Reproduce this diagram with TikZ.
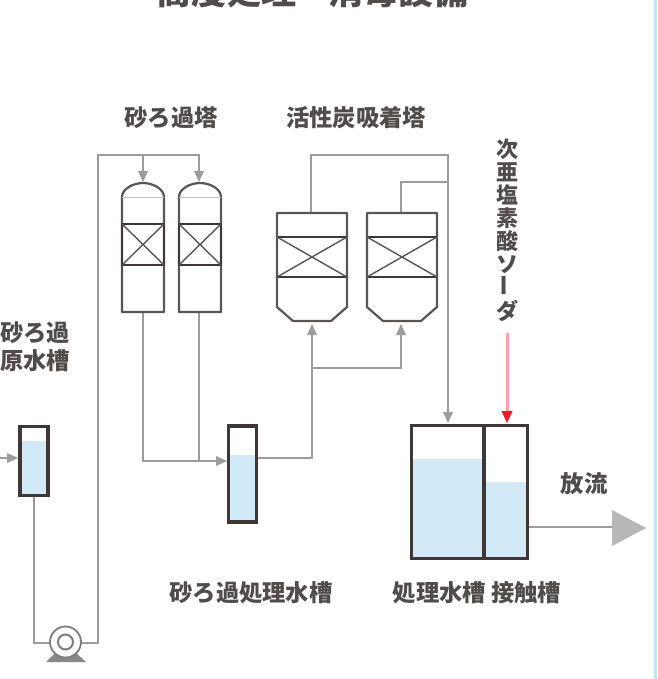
\documentclass[tikz,border=0pt]{standalone}
\usepackage{fontspec}
\newfontfamily\jp{Noto Sans CJK JP}
\definecolor{ink}{HTML}{3E3735}
\definecolor{pipe}{HTML}{9C9C9C}
\definecolor{water}{HTML}{D2EAF7}
\definecolor{edge}{HTML}{BFE3F7}
\definecolor{tri}{HTML}{B5B7B8}
\definecolor{dose}{HTML}{FF9FAE}
\definecolor{dosetip}{HTML}{F0182C}
\tikzset{
  x=1pt,y=-1pt,
  pipeline/.style={draw=pipe,line width=1.5pt},
  flow/.style={pipeline},
  head/.style={fill=pipe,draw=none},
  vessel/.style={draw=ink!85,line width=2.2pt,line join=round},
  tank/.style={draw=ink,line width=3.6pt,line join=miter},
  thin/.style={draw=ink!85,line width=1.4pt},
  band/.style={draw=ink,line width=2.8pt},
  label/.style={font=\jp\bfseries\fontsize{23.3}{27.5}\selectfont,text=ink!90,inner sep=0pt,align=center},
}
\newcommand{\downtip}[2]{\fill[head] (#1-5,#2-11) -- (#1+5,#2-11) -- (#1,#2) -- cycle;}
\newcommand{\uptip}[2]{\fill[head] (#1-5,#2+11) -- (#1+5,#2+11) -- (#1,#2) -- cycle;}
\newcommand{\righttip}[2]{\fill[head] (#1-11,#2-5) -- (#1-11,#2+5) -- (#1,#2) -- cycle;}
\newcommand{\sandtower}[1]{%
  \draw[vessel] (#1-21,312) -- (#1-21,197) .. controls (#1-21,189) and (#1-10,183) .. (#1,183) .. controls (#1+10,183) and (#1+21,189) .. (#1+21,197) -- (#1+21,312) -- cycle;
  \draw[draw=pipe!60,line width=.8pt] (#1-21,197) -- (#1+21,197);
  \draw[band] (#1-21,224) rectangle (#1+21,265);
  \draw[thin] (#1-21,224) -- (#1+21,265) (#1+21,224) -- (#1-21,265);
}
\newcommand{\carbontower}[1]{%
  \draw[vessel] (#1-35,213) -- (#1+35,213) -- (#1+35,307) -- (#1+19,321) -- (#1-19,321) -- (#1-35,307) -- cycle;
  \draw[band] (#1-35,237) -- (#1+35,237) (#1-35,277) -- (#1+35,277);
  \draw[thin] (#1-35,237) -- (#1+35,277) (#1+35,237) -- (#1-35,277);
}
\begin{document}
\begin{tikzpicture}
\useasboundingbox (0,0) rectangle (657,679);
\clip (0,0) rectangle (657,679);
\fill[white] (0,0) rectangle (657,679);
\fill[edge] (654,0) rectangle (657,679);
% title
\node[label,font=\jp\bfseries\fontsize{35}{40}\selectfont,anchor=center] (title) at (312.5,-9) {高度処理\hspace{0.9em}消毒設備};
% labels
\node[label] (lsandtower) at (171,118) {砂ろ過塔};
\node[label] (lcarbon) at (356,118) {活性炭吸着塔};
\node[label,anchor=west] (lraw) at (0,347) {砂ろ過\\原水槽};
\node[label] (ltreat) at (251,593) {砂ろ過処理水槽};
\node[label] (ltank) at (477,593) {処理水槽 接触槽};
\node[label] (ldis) at (584,484) {放流};
\node[label,font=\jp\bfseries\fontsize{22}{23}\selectfont] (lhypo) at (507,230) {次\\亜\\塩\\素\\酸\\ソ\\\rotatebox{90}{ー}\\ダ};
% water
\fill[water] (21,441) rectangle (47,495);
\fill[water] (229,455) rectangle (256,522);
\fill[water] (412,459) rectangle (484,558);
\fill[water] (484,482) rectangle (527,558);
% pipes
\coordinate (pumpL) at (50,643);
\coordinate (pumpR) at (79,643);
\draw[flow] (34,495) -- (34,643) -- (pumpL);
\draw[flow] (pumpR) -- (98,643) -- (98,155) -- (199,155) -- (199,175);
\draw[flow] (143,155) -- (143,175);
\draw[flow] (143,312) -- (143,461) -- (218,461);
\draw[flow] (199,312) -- (199,461);
\draw[flow] (0,458) -- (8,458);
\draw[flow] (256,458) -- (312,458) -- (312,334);
\draw[flow] (312,368) -- (401,368) -- (401,334);
\draw[flow] (311,213) -- (311,155) -- (448,155) -- (448,414);
\draw[flow] (401,213) -- (401,182) -- (448,182);
\draw[flow] (528,527) -- (612,527);
\draw[draw=dose,line width=3pt] (507,333) -- (507,414);
\fill[dosetip] (501.5,411) -- (512.5,411) -- (507,423) -- cycle;
% tips
\downtip{143}{182}
\downtip{199}{182}
\uptip{312}{324}
\uptip{401}{324}
\downtip{448}{423}
\righttip{227}{461}
\righttip{18}{458}
\fill[tri] (612,510) -- (612,546) -- (646,528) -- cycle;
% towers
\sandtower{143}
\sandtower{200}
\carbontower{312}
\carbontower{402}
% tanks
\node[tank,minimum width=28pt,minimum height=69pt,inner sep=0pt] (rawtank) at (34,461) {};
\node[tank,minimum width=28pt,minimum height=96pt,inner sep=0pt] (treattank) at (242.5,474) {};
\node[tank,minimum width=116pt,minimum height=133pt,inner sep=0pt] (bigtank) at (469.5,492) {};
\draw[tank] (484,425) -- (484,558);
% pump
\fill[ink!60] (46,662) -- (56,652) -- (75,652) -- (86,662) -- cycle;
\node[circle,draw=pipe!70!ink,fill=white,line width=1.8pt,minimum size=31pt,inner sep=0pt] (pump) at (65.5,642) {};
\node[circle,draw=pipe!70!ink,line width=2pt,minimum size=15pt,inner sep=0pt] (pumpin) at (65.5,642) {};
\end{tikzpicture}
\end{document}
